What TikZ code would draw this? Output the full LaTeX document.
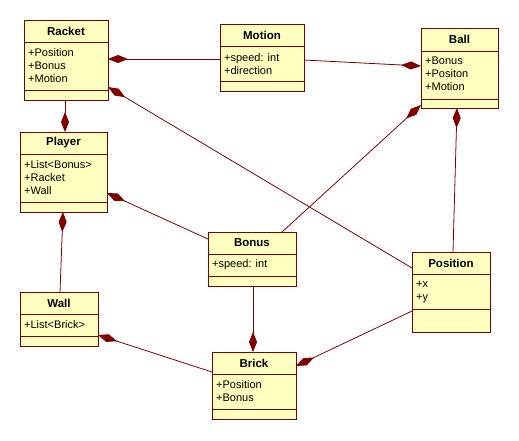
\documentclass[tikz,border=0pt]{standalone}
\usepackage{fontspec}
\setmainfont{Liberation Sans}
\usetikzlibrary{arrows.meta}
\definecolor{umlfill}{HTML}{FFFFC0}
\definecolor{umlline}{HTML}{800000}
\begin{document}
\begin{tikzpicture}[x=1pt,y=-1pt]

      \tikzset{cls/.style={draw=umlline, fill=umlfill, line width=0.9pt, inner sep=0pt, outer sep=0pt},
               ttl/.style={font=\fontsize{11.5}{13}\selectfont\bfseries},
               attr/.style={anchor=west, align=left, inner sep=0pt, font=\fontsize{11}{13}\selectfont},
               sep/.style={draw=umlline, line width=0.9pt},
               comp/.style={draw=umlline, line width=0.8pt, {Diamond[length=20pt,width=8pt]}-}}
      \useasboundingbox (0,0) rectangle (519,440);
%% Classes
      	\node[cls, minimum width=84, minimum height=80] (racket) at (66,60) {};
      	\node[ttl] (racketT) at (66,31) {Racket};
      	\draw[sep] (racket.west |- 0,42) -- (racket.east |- 0,42);
      	\draw[sep] (racket.west |- 0,90) -- (racket.east |- 0,90);
      	\node[attr] (racketA) at (28,66) {+Position\\+Bonus\\+Motion};

      	\node[cls, minimum width=84, minimum height=67] (motion) at (262,57.5) {};
      	\node[ttl] (motionT) at (262,35) {Motion};
      	\draw[sep] (motion.west |- 0,46) -- (motion.east |- 0,46);
      	\draw[sep] (motion.west |- 0,81) -- (motion.east |- 0,81);
      	\node[attr] (motionA) at (224,64) {+speed: int\\+direction};

      	\node[cls, minimum width=77, minimum height=80] (ball) at (459.5,68) {};
      	\node[ttl] (ballT) at (459.5,39) {Ball};
      	\draw[sep] (ball.west |- 0,51) -- (ball.east |- 0,51);
      	\draw[sep] (ball.west |- 0,99) -- (ball.east |- 0,99);
      	\node[attr] (ballA) at (425,74) {+Bonus\\+Positon\\+Motion};

      	\node[cls, minimum width=87, minimum height=80] (player) at (63.5,172) {};
      	\node[ttl] (playerT) at (63.5,143) {Player};
      	\draw[sep] (player.west |- 0,154) -- (player.east |- 0,154);
      	\draw[sep] (player.west |- 0,202) -- (player.east |- 0,202);
      	\node[attr] (playerA) at (24,178) {+List<Bonus>\\+Racket\\+Wall};

      	\node[cls, minimum width=78, minimum height=54] (wall) at (59,319) {};
      	\node[ttl] (wallT) at (59,303) {Wall};
      	\draw[sep] (wall.west |- 0,314) -- (wall.east |- 0,314);
      	\draw[sep] (wall.west |- 0,336) -- (wall.east |- 0,336);
      	\node[attr] (wallA) at (24,325) {+List<Brick>};

      	\node[cls, minimum width=88, minimum height=54] (bonus) at (252,259) {};
      	\node[ttl] (bonusT) at (252,243) {Bonus};
      	\draw[sep] (bonus.west |- 0,254) -- (bonus.east |- 0,254);
      	\draw[sep] (bonus.west |- 0,276) -- (bonus.east |- 0,276);
      	\node[attr] (bonusA) at (212,265) {+speed: int};

      	\node[cls, minimum width=84, minimum height=67] (brick) at (254,385.5) {};
      	\node[ttl] (brickT) at (254,363) {Brick};
      	\draw[sep] (brick.west |- 0,374) -- (brick.east |- 0,374);
      	\draw[sep] (brick.west |- 0,409) -- (brick.east |- 0,409);
      	\node[attr] (brickA) at (216,391.5) {+Position\\+Bonus};

      	\node[cls, minimum width=78, minimum height=80] (position) at (451,292) {};
      	\node[ttl] (positionT) at (451,263) {Position};
      	\draw[sep] (position.west |- 0,274) -- (position.east |- 0,274);
      	\draw[sep] (position.west |- 0,309) -- (position.east |- 0,309);
      	\node[attr] (positionA) at (416,292) {+x\\+y};
%Compositions
		\draw[comp] (racket.east |- 0,59) -- (motion.west |- 0,59);
		\draw[comp] (ball.west |- 0,66) -- (motion.east |- 0,60);
		\draw[comp] (player.north -| 65,0) -- (racket.south -| 65,0);
		\draw[comp] (racket.east |- 0,87) -- (position.west |- 0,268);
		\draw[comp] (player.east |- 0,193) -- (bonus.west |- 0,239);
		\draw[comp] (player.south -| 63,0) -- (wall.north -| 60,0);
		\draw[comp] (wall.east |- 0,335) -- (brick.west |- 0,372);
		\draw[comp] (brick.north -| 253,0) -- (bonus.south -| 253,0);
		\draw[comp] (ball.west |- 0,105) -- (bonus.north -| 282,0);
		\draw[comp] (ball.south -| 457,0) -- (position.north -| 453,0);
		\draw[comp] (brick.east |- 0,366) -- (position.west |- 0,311);

	\end{tikzpicture}
\end{document}
